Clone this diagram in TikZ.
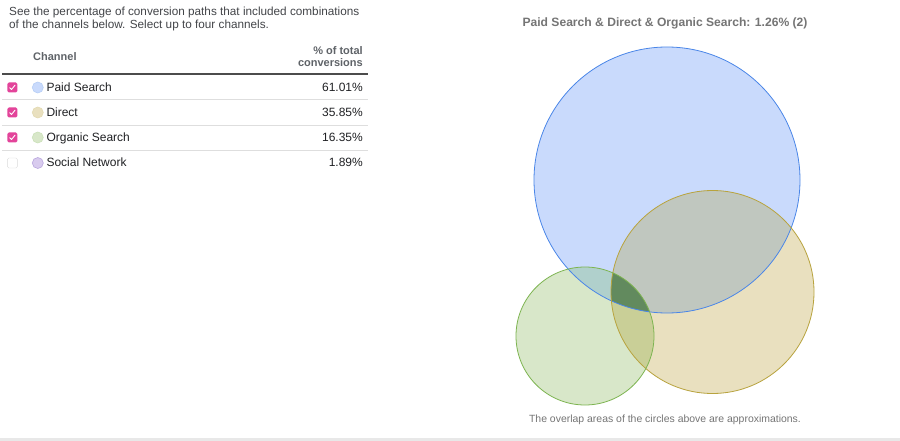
\documentclass[tikz,border=0pt]{standalone}
\usepackage{fontspec}
\setmainfont{Liberation Sans}
\usetikzlibrary{calc}
\definecolor{txt}{HTML}{202124}
\definecolor{hdr}{HTML}{5F6368}
\definecolor{ttl}{HTML}{757575}
\definecolor{pink}{HTML}{E3449A}
\definecolor{bfill}{HTML}{C9DAFC}
\definecolor{bline}{HTML}{4A86E8}
\definecolor{tfill}{HTML}{E9E0BF}
\definecolor{tline}{HTML}{B8A33E}
\definecolor{gfill}{HTML}{D8E7C9}
\definecolor{gline}{HTML}{7DB450}
\definecolor{pfill}{HTML}{D8CBEE}
\definecolor{pline}{HTML}{B9A6DE}
\definecolor{btfill}{HTML}{C0C7BF}
\definecolor{bgfill}{HTML}{B0D0CC}
\definecolor{gtfill}{HTML}{C9CF97}
\definecolor{allfill}{HTML}{628A5E}
\begin{document}
\begin{tikzpicture}[x=1pt,y=-1pt,
  body/.style={font=\fontsize{12}{13}\selectfont, text=txt, inner sep=0pt},
  lbl/.style={body, anchor=base west},
  val/.style={body, anchor=base east},
  hd/.style={font=\fontsize{11}{13}\selectfont\bfseries, text=hdr, inner sep=0pt},
  sep/.style={draw=black!13, line width=1pt},
  chk/.style={fill=pink, rounded corners=1.5pt, minimum size=10pt, inner sep=0pt, draw=none},
  unchk/.style={draw=black!14, fill=white, rounded corners=1.5pt, minimum size=10pt, inner sep=0pt},
  dot/.style={circle, minimum size=11pt, inner sep=0pt, line width=0.6pt}
]
\useasboundingbox (0,0) rectangle (900,441);
\fill[white] (0,0) rectangle (900,441);
\fill[black!9] (0,438) rectangle (900,441);

% intro text
\node[lbl, font=\fontsize{11.75}{13}\selectfont, text=hdr!70!black] (l1) at (9,15.3) {See the percentage of conversion paths that included combinations};
\node[lbl, font=\fontsize{11.75}{13}\selectfont, text=hdr!70!black] (l2) at (9,28.3) {of the channels below. Select up to four channels.};

% header
\node[hd, anchor=base west] (hch) at (33,60.7) {Channel};
\node[hd, anchor=base east] (hp1) at (363,54.3) {\% of total};
\node[hd, anchor=base east] (hp2) at (363,66.7) {conversions};
\draw[black!70, line width=1.8pt] (2,74) -- (368,74);
\draw[sep] (2,99.8) -- (368,99.8);
\draw[sep] (2,125.2) -- (368,125.2);
\draw[sep] (2,150.5) -- (368,150.5);

% rows
\foreach \n/\y/\lab/\v/\fc/\lc in {r1/87.5/Paid Search/61.01\%/bfill/bline!40,
  r2/112.5/Direct/35.85\%/tfill/tline!40,
  r3/137.5/Organic Search/16.35\%/gfill/gline!40,
  r4/163/Social Network/1.89\%/pfill/pline}{
  \node[dot, fill=\fc, draw=\lc] (\n d) at (37.8,\y) {};
  \node[lbl] (\n l) at (46.3,\y+4) {\lab};
  \node[val] (\n v) at (363,\y+4) {\v};
}
\foreach \n/\y in {c1/87.5,c2/112.5,c3/137.5}{
  \node[chk] (\n) at (12.3,\y) {};
  \draw[white, line width=0.9pt, line cap=round, line join=round]
    ($(\n)+(-2.6,0.2)$) -- ($(\n)+(-0.8,2.0)$) -- ($(\n)+(2.8,-2.4)$);
}
\node[unchk] (c4) at (12.3,163) {};

% title
\node[font=\fontsize{12.1}{13}\selectfont\bfseries, text=ttl, inner sep=0pt, anchor=base] (title) at (665,27) {Paid Search \& Direct \& Organic Search: 1.26\% (2)};

% venn
\coordinate (B) at (667,180);
\coordinate (T) at (712.5,292);
\coordinate (G) at (585,336);
\def\rb{133}\def\rt{101.5}\def\rg{69}
\fill[bfill] (B) circle[radius=\rb];
\fill[tfill] (T) circle[radius=\rt];
\fill[gfill] (G) circle[radius=\rg];
\begin{scope}
  \clip (B) circle[radius=\rb];
  \fill[btfill] (T) circle[radius=\rt];
  \fill[bgfill] (G) circle[radius=\rg];
\end{scope}
\begin{scope}
  \clip (T) circle[radius=\rt];
  \fill[gtfill] (G) circle[radius=\rg];
  \clip (G) circle[radius=\rg];
  \fill[allfill] (B) circle[radius=\rb];
\end{scope}
\draw[bline, line width=0.8pt] (B) circle[radius=\rb];
\draw[tline, line width=0.8pt] (T) circle[radius=\rt];
\draw[gline, line width=0.8pt] (G) circle[radius=\rg];

\node[font=\fontsize{10.45}{12}\selectfont, text=ttl, inner sep=0pt, anchor=base] (note) at (665,422) {The overlap areas of the circles above are approximations.};
\end{tikzpicture}
\end{document}
